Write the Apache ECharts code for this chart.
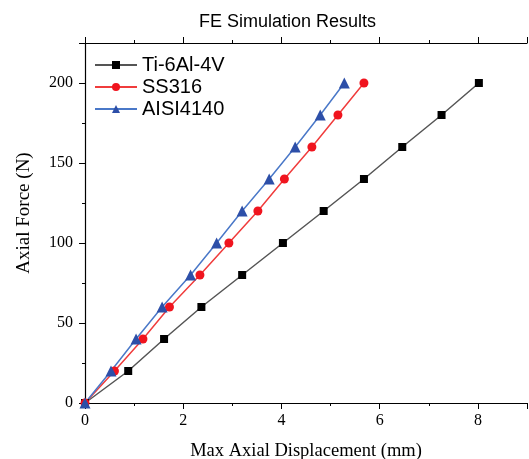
<!DOCTYPE html>
<html>
<head>
<meta charset="utf-8">
<script src="https://cdn.jsdelivr.net/npm/echarts@6/dist/echarts.min.js"></script>
<style>
  html, body { margin: 0; padding: 0; background: #fff; }
  #chart { width: 529px; height: 459px; }
</style>
</head>
<body>
<div id="chart"></div>
<script>
// force levels (N), shared by all three materials
var forces = [0, 20, 40, 60, 80, 100, 120, 140, 160, 180, 200]
// max axial displacement (mm)
var tiDisp = [0, 0.88, 1.61, 2.37, 3.2, 4.03, 4.86, 5.68, 6.46, 7.26, 8.02]
var ssDisp = [0, 0.6, 1.18, 1.72, 2.34, 2.93, 3.52, 4.06, 4.62, 5.15, 5.68]
var aisiDisp = [0, 0.53, 1.04, 1.57, 2.15, 2.68, 3.2, 3.75, 4.28, 4.79, 5.28]

function pairs (xs) {
  return xs.map(function (x, i) { return [x, forces[i]] })
}

var serif = 'Liberation Serif'
var sans = 'Liberation Sans'

var chart = echarts.init(document.getElementById('chart'))

var axisBase = {
  type: 'value',
  min: 0,
  axisLine: { show: true, lineStyle: { color: '#000', width: 1.2 } },
  axisTick: { show: true, inside: false, length: 6, lineStyle: { color: '#000' } },
  minorTick: { show: true, splitNumber: 2, length: 3, lineStyle: { color: '#000' } },
  splitLine: { show: false }
}

var option = {
  animation: false,
  title: {
    text: 'FE Simulation Results',
    left: 194,
    top: 8,
    textStyle: { fontFamily: sans, fontSize: 18, fontWeight: 'normal', color: '#000' }
  },
  legend: {
    left: 89,
    top: 50,
    orient: 'vertical',
    itemGap: 2,
    itemWidth: 42,
    itemHeight: 10,
    textStyle: { fontFamily: sans, fontSize: 20, color: '#000' },
    data: ['Ti-6Al-4V', 'SS316', 'AISI4140']
  },
  grid: { left: 85, right: 2, top: 43, bottom: 56, containLabel: false, outerBoundsMode: 'none' },
  xAxis: [
    Object.assign({}, axisBase, {
      max: 9,
      interval: 2,
      position: 'bottom',
      name: 'Max Axial Displacement (mm)',
      nameLocation: 'middle',
      nameGap: 39,
      nameTextStyle: { fontFamily: serif, fontSize: 18.5, color: '#000' },
      axisLabel: { fontFamily: serif, fontSize: 16, color: '#000', margin: 10,
        formatter: function (v) { return v === 9 ? '' : v } }
    }),
    Object.assign({}, axisBase, {
      max: 9,
      interval: 2,
      position: 'top',
      axisLabel: { show: false }
    })
  ],
  yAxis: Object.assign({}, axisBase, {
    max: 225,
    interval: 50,
    name: 'Axial Force (N)',
    nameLocation: 'middle',
    nameGap: 51,
    nameTextStyle: { fontFamily: serif, fontSize: 19, color: '#000', padding: [0, 0, 0, 20] },
    axisLabel: { fontFamily: serif, fontSize: 16, color: '#000', margin: 12,
      formatter: function (v) { return v === 225 ? '' : v } }
  }),
  series: [
    {
      name: 'Ti-6Al-4V',
      type: 'line',
      data: pairs(tiDisp),
      symbol: 'rect',
      symbolSize: 8,
      itemStyle: { color: '#000' },
      lineStyle: { color: '#555', width: 1.5 }
    },
    {
      name: 'SS316',
      type: 'line',
      data: pairs(ssDisp),
      symbol: 'circle',
      symbolSize: 9,
      itemStyle: { color: '#f0141e' },
      lineStyle: { color: '#f03c3c', width: 1.5 }
    },
    {
      name: 'AISI4140',
      type: 'line',
      data: pairs(aisiDisp),
      symbol: 'triangle',
      symbolSize: 11,
      itemStyle: { color: '#2d4fa8' },
      lineStyle: { color: '#4a78c8', width: 1.5 }
    }
  ]
}

chart.setOption(option)
</script>
</body>
</html>
